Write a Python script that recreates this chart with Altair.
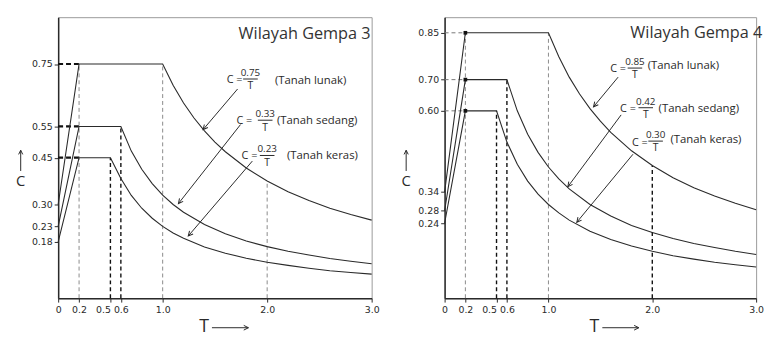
import math
import altair as alt
import pandas as pd

# ---------------- data ----------------
X_TICKS = [0, 0.2, 0.5, 0.6, 1.0, 2.0, 3.0]

# Wilayah Gempa 3
W3_TITLE = "Wilayah Gempa 3"
W3_Y_TICKS = [0.18, 0.23, 0.30, 0.45, 0.55, 0.75]
W3_SOFT_T = [0, 0.2, 1.0, 1.1, 1.2, 1.3, 1.4, 1.5, 1.6, 1.8, 2.0, 2.2, 2.4, 2.6, 2.8, 3.0]
W3_SOFT_C = [0.30, 0.75, 0.75, 0.682, 0.625, 0.577, 0.536, 0.500, 0.469, 0.417, 0.375, 0.341, 0.313, 0.288, 0.268, 0.250]
W3_MED_T = [0, 0.2, 0.6, 0.7, 0.8, 0.9, 1.0, 1.1, 1.2, 1.4, 1.6, 1.8, 2.0, 2.2, 2.4, 2.6, 2.8, 3.0]
W3_MED_C = [0.23, 0.55, 0.55, 0.471, 0.413, 0.367, 0.330, 0.300, 0.275, 0.236, 0.206, 0.183, 0.165, 0.150, 0.138, 0.127, 0.118, 0.110]
W3_HARD_T = [0, 0.2, 0.5, 0.6, 0.7, 0.8, 0.9, 1.0, 1.1, 1.2, 1.4, 1.6, 1.8, 2.0, 2.2, 2.4, 2.6, 2.8, 3.0]
W3_HARD_C = [0.18, 0.45, 0.45, 0.383, 0.329, 0.288, 0.256, 0.230, 0.209, 0.192, 0.164, 0.144, 0.128, 0.115, 0.105, 0.096, 0.088, 0.082, 0.077]
W3_DASH_DARK_T = [0.5, 0.6]
W3_DASH_DARK_TOP = [0.45, 0.55]
W3_DASH_GREY_T = [0.2, 1.0, 2.0]
W3_DASH_GREY_TOP = [0.75, 0.75, 0.375]
W3_PLATEAUS = [0.75, 0.55, 0.45]
W3_EQ_NUM = ["0.75", "0.33", "0.23"]
W3_EQ_DEN = ["T", "T", "T"]
W3_EQ_SOIL = ["(Tanah lunak)", "(Tanah sedang)", "(Tanah keras)"]

# Wilayah Gempa 4
W4_TITLE = "Wilayah Gempa 4"
W4_Y_TICKS = [0.24, 0.28, 0.34, 0.60, 0.70, 0.85]
W4_SOFT_T = [0, 0.2, 1.0, 1.1, 1.2, 1.3, 1.4, 1.5, 1.6, 1.8, 2.0, 2.2, 2.4, 2.6, 2.8, 3.0]
W4_SOFT_C = [0.34, 0.85, 0.85, 0.773, 0.708, 0.654, 0.607, 0.567, 0.531, 0.472, 0.425, 0.386, 0.354, 0.327, 0.304, 0.283]
W4_MED_T = [0, 0.2, 0.6, 0.7, 0.8, 0.9, 1.0, 1.1, 1.2, 1.4, 1.6, 1.8, 2.0, 2.2, 2.4, 2.6, 2.8, 3.0]
W4_MED_C = [0.28, 0.70, 0.70, 0.600, 0.525, 0.467, 0.420, 0.382, 0.350, 0.300, 0.263, 0.233, 0.210, 0.191, 0.175, 0.162, 0.150, 0.140]
W4_HARD_T = [0, 0.2, 0.5, 0.6, 0.7, 0.8, 0.9, 1.0, 1.1, 1.2, 1.4, 1.6, 1.8, 2.0, 2.2, 2.4, 2.6, 2.8, 3.0]
W4_HARD_C = [0.24, 0.60, 0.60, 0.500, 0.429, 0.375, 0.333, 0.300, 0.273, 0.250, 0.214, 0.188, 0.167, 0.150, 0.136, 0.125, 0.115, 0.107, 0.100]
W4_DASH_DARK_T = [0.5, 0.6, 2.0]
W4_DASH_DARK_TOP = [0.60, 0.70, 0.425]
W4_DASH_GREY_T = [0.2, 1.0]
W4_DASH_GREY_TOP = [0.85, 0.85]
W4_PLATEAUS = [0.85, 0.70, 0.60]
W4_EQ_NUM = ["0.85", "0.42", "0.30"]
W4_EQ_DEN = ["T", "T", "T"]
W4_EQ_SOIL = ["(Tanah lunak)", "(Tanah sedang)", "(Tanah keras)"]

CORNER_T = 0.2

# annotation anchors, in data coordinates (T, C)
W3_ANN = dict(
    eq_t=[1.764, 1.858, 1.906], eq_c=[0.698, 0.568, 0.455],
    frac_t=[1.840, 1.981, 2.0],
    num_c=[0.720, 0.591, 0.477], bar_c=[0.702, 0.570, 0.457], den_c=[0.678, 0.546, 0.432],
    soil_t=[2.075, 2.094, 2.189], soil_c=[0.695, 0.568, 0.455],
    from_t=[1.717, 1.745, 1.858], from_c=[0.670, 0.556, 0.439],
    to_t=[1.387, 1.151, 1.245], to_c=[0.540, 0.303, 0.199],
    title_t=2.99, title_c=0.846,
)
W4_ANN = dict(
    eq_t=[1.747, 1.842, 1.956], eq_c=[0.733, 0.606, 0.496],
    frac_t=[1.833, 1.937, 2.032],
    num_c=[0.755, 0.628, 0.524], bar_c=[0.737, 0.610, 0.503], den_c=[0.714, 0.587, 0.480],
    soil_t=[1.956, 2.061, 2.175], soil_c=[0.742, 0.606, 0.508],
    from_t=[1.671, 1.700, 1.814], from_c=[0.708, 0.587, 0.461],
    to_t=[1.434, 1.187, 1.273], to_c=[0.613, 0.357, 0.243],
    title_t=3.06, title_c=0.850,
)

CHEVRON = "M -0.5 1 L 0 0 L 0.5 1"
INK = "#2a2a2a"
FONT = "Open Sans"


def build_panel(title, yticks, curves, dark_t, dark_top, grey_t, grey_top,
                plateaus, eq_num, eq_den, eq_soil, ann, W, H, left_style,
                c_x, t_x):
    xsc = alt.Scale(domain=[0, 3], nice=False, zero=False)
    ysc = alt.Scale(domain=[0, 0.9], nice=False)
    xax = alt.Axis(values=X_TICKS, title=None, grid=False, labelFlush=False,
                   labelOverlap=False, tickSize=4, labelPadding=3,
                   labelAlign={"condition": {"test": "datum.value == 0.5", "value": "right"},
                               "value": "center"},
                   labelExpr="datum.value == 0 ? '0' : format(datum.value, '.1f')",
                   labelFont="DejaVu Sans", labelFontSize=9.5, labelColor=INK,
                   domainColor=INK, domainWidth=1.5, tickColor=INK)
    yax = alt.Axis(values=yticks, format=".2f", title=None, grid=False,
                   labelFlush=False, labelOverlap=False, tickSize=4, labelPadding=2,
                   labelFont="DejaVu Sans", labelFontSize=9.5, labelColor=INK,
                   domainColor=INK, domainWidth=1.5, tickColor=INK)

    def X(f="T"):
        return alt.X(f"{f}:Q", scale=xsc, axis=xax)

    def Y(f="C"):
        return alt.Y(f"{f}:Q", scale=ysc, axis=yax)

    # curves
    rows = []
    for name, ts, cs in curves:
        for t, c in zip(ts, cs):
            rows.append({"T": t, "C": c, "s": name})
    df_curves = pd.DataFrame(rows)
    lines = alt.Chart(df_curves).mark_line(color=INK, strokeWidth=1.1).encode(
        x=X(), y=Y(), detail="s:N", order="T:Q")

    df_grey = pd.DataFrame({"T": grey_t, "C": [0] * len(grey_t), "top": grey_top})
    grey = alt.Chart(df_grey).mark_rule(color="#8a8a8a", strokeWidth=1, strokeDash=[4, 3]).encode(
        x=X(), y=Y(), y2="top:Q")
    df_dark = pd.DataFrame({"T": dark_t, "C": [0] * len(dark_t), "top": dark_top})
    dark = alt.Chart(df_dark).mark_rule(color="#111", strokeWidth=1.4, strokeDash=[4, 3]).encode(
        x=X(), y=Y(), y2="top:Q")

    df_plat = pd.DataFrame({"T": [0] * len(plateaus), "T2": [CORNER_T] * len(plateaus), "C": plateaus})
    if left_style == "thick":
        plat = alt.Chart(df_plat).mark_rule(color="#111", strokeWidth=2.2, strokeDash=[5, 3]).encode(
            x=X(), x2="T2:Q", y=Y())
        markers = None
    else:
        plat = alt.Chart(df_plat).mark_rule(color="#777", strokeWidth=1, strokeDash=[4, 3]).encode(
            x=X(), x2="T2:Q", y=Y())
        markers = alt.Chart(df_plat).mark_square(color="#111", size=14, opacity=1).encode(
            x=alt.X("T2:Q", scale=xsc, axis=xax), y=Y())

    # equations
    df_eq = pd.DataFrame({"T": ann["eq_t"], "C": ann["eq_c"], "txt": ["C ="] * 3})
    eq = alt.Chart(df_eq).mark_text(align="right", baseline="middle", font=FONT,
                                    fontSize=11, color=INK).encode(x=X(), y=Y(), text="txt:N")
    df_num = pd.DataFrame({"T": ann["frac_t"], "C": ann["num_c"], "txt": eq_num})
    num = alt.Chart(df_num).mark_text(align="center", baseline="middle", font=FONT,
                                      fontSize=10, color=INK).encode(x=X(), y=Y(), text="txt:N")
    df_den = pd.DataFrame({"T": ann["frac_t"], "C": ann["den_c"], "txt": eq_den})
    den = alt.Chart(df_den).mark_text(align="center", baseline="middle", font=FONT,
                                      fontSize=10.5, color=INK).encode(x=X(), y=Y(), text="txt:N")
    half = 0.07
    df_bar = pd.DataFrame({"T": [t - half for t in ann["frac_t"]],
                           "T2": [t + half for t in ann["frac_t"]], "C": ann["bar_c"]})
    bar = alt.Chart(df_bar).mark_rule(color=INK, strokeWidth=1).encode(x=X(), x2="T2:Q", y=Y())
    df_soil = pd.DataFrame({"T": ann["soil_t"], "C": ann["soil_c"], "txt": eq_soil})
    soil = alt.Chart(df_soil).mark_text(align="left", baseline="middle", font=FONT,
                                        fontSize=11.5, color=INK).encode(x=X(), y=Y(), text="txt:N")

    # arrows
    sx, sy = W / 3.0, H / 0.9
    angs = []
    for ft, fc, tt, tc in zip(ann["from_t"], ann["from_c"], ann["to_t"], ann["to_c"]):
        dx = (tt - ft) * sx
        dy = -(tc - fc) * sy
        angs.append(math.degrees(math.atan2(dx, -dy)) % 360)
    df_arr = pd.DataFrame({"T": ann["from_t"], "C": ann["from_c"], "T2": ann["to_t"],
                           "C2": ann["to_c"], "ang": angs})
    arr_line = alt.Chart(df_arr).mark_rule(color=INK, strokeWidth=1).encode(
        x=X(), y=Y(), x2="T2:Q", y2="C2:Q")
    arr_head = alt.Chart(df_arr).mark_point(shape=CHEVRON, size=90, filled=False,
                                            color=INK, strokeWidth=1, opacity=1).encode(
        x=alt.X("T2:Q", scale=xsc, axis=xax), y=alt.Y("C2:Q", scale=ysc, axis=yax),
        angle=alt.Angle("ang:Q", scale=None))

    df_title = pd.DataFrame({"T": [ann["title_t"]], "C": [ann["title_c"]], "txt": [title]})
    ttl = alt.Chart(df_title).mark_text(align="right", baseline="middle", font=FONT,
                                        fontSize=16.5, color="#333").encode(x=X(), y=Y(), text="txt:N")

    # axis-name decorations (C with up arrow, T with right arrow)
    one = pd.DataFrame({"k": [0]})
    c_txt = alt.Chart(one).mark_text(text="C", font=FONT, fontSize=15, color=INK,
                                     align="center", baseline="middle").encode(
        x=alt.value(c_x), y=alt.value(166))
    c_stem = alt.Chart(one).mark_rule(color=INK, strokeWidth=1).encode(
        x=alt.value(c_x), y=alt.value(135), y2=alt.value(156))
    c_head = alt.Chart(one).mark_point(shape=CHEVRON, size=70, filled=False, color=INK,
                                       strokeWidth=1, opacity=1).encode(
        x=alt.value(c_x), y=alt.value(135))
    t_txt = alt.Chart(one).mark_text(text="T", font=FONT, fontSize=18, color=INK,
                                     align="center", baseline="middle").encode(
        x=alt.value(t_x), y=alt.value(H + 29))
    t_stem = alt.Chart(one).mark_rule(color=INK, strokeWidth=1).encode(
        x=alt.value(t_x + 8), x2=alt.value(t_x + 45), y=alt.value(H + 30))
    t_head = alt.Chart(one).mark_point(shape=CHEVRON, size=90, filled=False, color=INK,
                                       strokeWidth=1, opacity=1, angle=90).encode(
        x=alt.value(t_x + 45), y=alt.value(H + 30))

    layers = [grey, dark, plat, lines]
    if markers is not None:
        layers.append(markers)
    layers += [eq, num, bar, den, soil, arr_line, arr_head, ttl,
               c_txt, c_stem, c_head, t_txt, t_stem, t_head]
    return alt.layer(*layers).properties(width=W, height=H)


left = build_panel(
    W3_TITLE, W3_Y_TICKS,
    [("lunak", W3_SOFT_T, W3_SOFT_C), ("sedang", W3_MED_T, W3_MED_C), ("keras", W3_HARD_T, W3_HARD_C)],
    W3_DASH_DARK_T, W3_DASH_DARK_TOP, W3_DASH_GREY_T, W3_DASH_GREY_TOP,
    W3_PLATEAUS, W3_EQ_NUM, W3_EQ_DEN, W3_EQ_SOIL, W3_ANN, 318, 285, "thick",
    c_x=-38, t_x=148)

right = build_panel(
    W4_TITLE, W4_Y_TICKS,
    [("lunak", W4_SOFT_T, W4_SOFT_C), ("sedang", W4_MED_T, W4_MED_C), ("keras", W4_HARD_T, W4_HARD_C)],
    W4_DASH_DARK_T, W4_DASH_DARK_TOP, W4_DASH_GREY_T, W4_DASH_GREY_TOP,
    W4_PLATEAUS, W4_EQ_NUM, W4_EQ_DEN, W4_EQ_SOIL, W4_ANN, 316, 285, "thin",
    c_x=-39, t_x=152)

chart = alt.hconcat(left, right, spacing=20).properties(
    padding={"left": 15, "top": 14, "right": 0, "bottom": 0},
    background="white",
).configure_view(stroke="#9a9a9a", strokeWidth=1)

chart.save("out.html", embed_options={"renderer": "svg", "actions": False})
